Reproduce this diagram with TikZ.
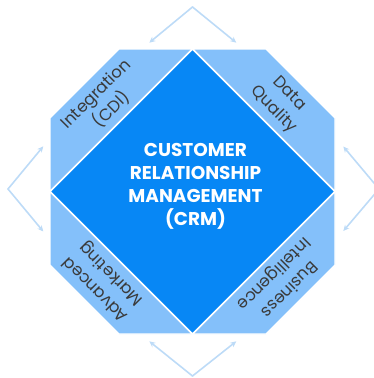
\documentclass[tikz,border=0pt]{standalone}
\usepackage{fontspec}
\setmainfont{Poppins}
\usetikzlibrary{arrows.meta}
\definecolor{dblue}{HTML}{0787F5}
\definecolor{lblue}{HTML}{84C0FA}
\definecolor{ablue}{HTML}{BDDBF7}
\definecolor{tgray}{HTML}{3A3A3A}
\tikzset{
  region/.style={fill=lblue, draw=white, line width=1.2pt, line join=miter},
  core/.style={fill=dblue, draw=white, line width=1.5pt, line join=miter},
  sidetext/.style={text=tgray, font=\fontsize{16.5}{22}\selectfont, align=center, inner sep=0pt},
  coretext/.style={text=white, font=\bfseries\fontsize{18.5}{23}\selectfont, align=center, inner sep=0pt},
  cycarrow/.style={draw=ablue, line width=1.6pt, -{Stealth[length=6pt,width=5.5pt]}, line cap=round, line join=round}
}
\begin{document}
\begin{tikzpicture}[x=1pt,y=-1pt]
\useasboundingbox (0,0) rectangle (374,378);
% regions
\path[region] (50,118) -- (119,49) -- (192.5,49) -- (50,191.5) -- cycle;
\path[region] (192.5,49) -- (266,49) -- (335,118) -- (335,191.5) -- cycle;
\path[region] (335,191.5) -- (335,265) -- (266,334) -- (192.5,334) -- cycle;
\path[region] (192.5,334) -- (119,334) -- (50,265) -- (50,191.5) -- cycle;
% diamond
\path[core] (192.5,49) -- (335,191.5) -- (192.5,334) -- (50,191.5) -- cycle;
% texts
\node[coretext] (crm) at (195.5,186) {CUSTOMER\\RELATIONSHIP\\MANAGEMENT\\(CRM)};
\node[sidetext, rotate=45] (cdi) at (104,102) {Integration\\(CDI)};
\node[sidetext, rotate=-45] (dq) at (281,102) {Data\\Quality};
\node[sidetext, rotate=135] (am) at (104,281) {Advanced\\Marketing};
\node[sidetext, rotate=225] (bi) at (281,281) {Business\\Intelligence};
% arrow coordinates
\coordinate (ta) at (192.5,7);
\coordinate (tl) at (149.3,42.7);
\coordinate (tr) at (236.3,42.7);
\coordinate (ba) at (192.5,376);
\coordinate (bl) at (149.3,341.3);
\coordinate (br) at (236.3,341.3);
\coordinate (la) at (8,189);
\coordinate (lt) at (43.3,146.3);
\coordinate (lb) at (43.3,231.5);
\coordinate (ra) at (379,189);
\coordinate (rt) at (343.3,146.5);
\coordinate (rb) at (343.3,231);
\draw[cycarrow] (ta) -- (tl);
\draw[cycarrow] (ta) -- (tr);
\draw[cycarrow] (ba) -- (bl);
\draw[cycarrow] (ba) -- (br);
\draw[cycarrow] (la) -- (lt);
\draw[cycarrow] (la) -- (lb);
\draw[cycarrow] (ra) -- (rt);
\draw[cycarrow] (ra) -- (rb);
\end{tikzpicture}
\end{document}
